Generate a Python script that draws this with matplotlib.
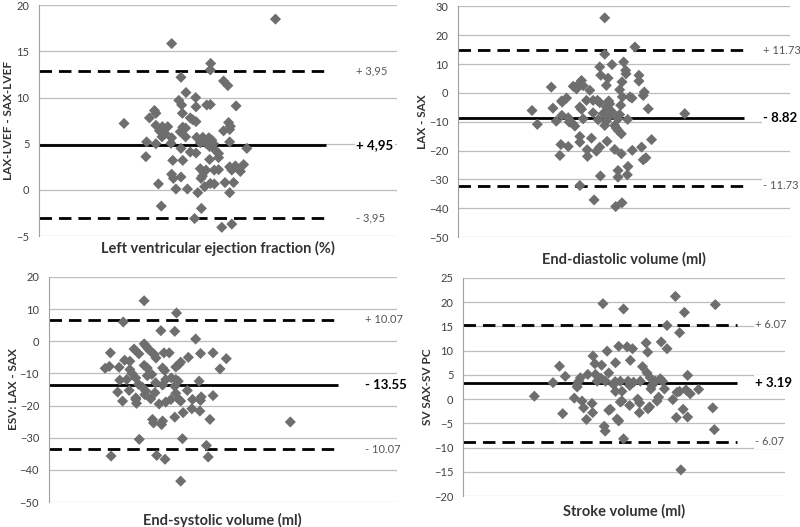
import matplotlib
matplotlib.use("Agg")
import matplotlib.pyplot as plt

plt.rcParams['font.family'] = ['Lato', 'DejaVu Sans']

# --- data (x axis has no scale: 0-100 = axis width) ---
lvef_x = [66.0, 37.0, 47.9, 47.8, 39.6, 51.5, 52.7, 41.0, 43.7, 39.0, 39.8, 43.8, 46.8, 47.8, 55.0,
          32.2, 32.6, 40.0, 30.8, 42.2, 42.9, 23.7, 43.8, 52.9, 32.6, 34.4, 35.9, 40.1, 40.9, 53.4,
          33.6, 35.2, 39.4, 51.5, 53.2, 34.3, 37.0, 40.9, 44.0, 45.7, 47.4, 48.2, 30.0, 32.6, 36.8,
          45.0, 46.6, 48.7, 53.2, 47.6, 39.6, 49.2, 58.0, 42.2, 43.8, 50.1, 29.8, 50.1, 47.6, 37.3,
          40.1, 57.1, 54.8, 53.2, 45.0, 46.6, 48.9, 50.1, 53.8, 56.2, 45.9, 45.6, 37.0, 39.6, 37.5,
          45.2, 33.3, 47.8, 48.9, 51.9, 54.3, 38.2, 41.4, 46.2, 44.3, 53.2, 34.1, 45.3, 43.4, 51.0,
          53.8]
lvef_y = [18.5, 15.85, 13.7, 13.0, 12.2, 11.8, 11.3, 10.55, 10.0, 9.7, 9.2, 9.0, 9.2, 9.25, 9.1,
          8.6, 8.3, 8.3, 7.8, 7.8, 7.6, 7.2, 7.4, 7.3, 7.0, 6.85, 6.85, 6.8, 6.7, 6.9,
          6.4, 6.1, 6.3, 6.4, 6.55, 5.75, 5.65, 5.75, 5.7, 5.7, 5.65, 5.4, 5.2, 5.0, 5.05,
          5.1, 5.05, 5.0, 5.2, 4.7, 4.5, 4.3, 4.5, 4.1, 4.0, 3.95, 3.6, 3.5, 3.3, 3.2,
          3.2, 2.75, 2.6, 2.5, 2.3, 2.15, 2.15, 2.2, 2.15, 2.0, 1.95, 1.5, 1.7, 1.4, 1.25,
          1.25, 0.65, 0.7, 0.65, 0.8, 0.8, 0.1, 0.1, 0.35, -0.3, -0.3, -1.75, -2.0, -3.1, -4.05,
          -3.7]

edv_x = [44.2, 53.3, 44.2, 42.7, 46.4, 49.9, 43.0, 45.2, 50.5, 50.6, 54.5, 54.5, 37.2, 36.7, 44.7,
         49.4, 28.1, 34.7, 37.7, 35.7, 39.7, 48.7, 56.1, 55.8, 49.5, 51.8, 52.4, 32.7, 31.2, 40.7,
         42.0, 38.7, 45.4, 31.4, 42.7, 45.7, 49.0, 36.7, 44.7, 28.6, 37.2, 57.3, 46.4, 40.7, 22.3,
         68.3, 43.7, 48.7, 45.9, 31.3, 33.2, 37.7, 48.2, 51.1, 42.2, 29.6, 33.5, 34.4, 44.7, 23.9,
         35.2, 44.2, 47.2, 47.7, 48.2, 49.2, 36.7, 40.2, 58.3, 36.7, 44.9, 31.0, 33.2, 42.7, 55.3,
         38.9, 47.2, 52.5, 41.7, 49.2, 30.7, 39.0, 56.6, 55.8, 51.2, 48.2, 51.0, 42.9, 48.2, 36.7,
         41.0, 49.4, 47.5]
edv_y = [26.0, 15.9, 13.4, 9.0, 9.8, 10.7, 6.1, 5.1, 7.8, 6.6, 6.1, 4.1, 4.3, 3.4, 2.6,
         3.8, 2.0, 2.3, 2.5, 1.4, 0.9, 1.1, 0.3, -0.9, -1.4, -1.4, -1.8, -1.8, -2.8, -2.6,
         -2.6, -2.6, -2.8, -3.2, -3.4, -3.8, -4.3, -4.9, -4.9, -5.3, -5.7, -5.5, -6.6, -6.9, -6.1,
         -7.2, -7.2, -7.5, -7.8, -7.8, -8.6, -9.0, -9.0, -9.2, -9.3, -9.8, -10.1, -10.5, -9.8, -10.9,
         -11.5, -11.3, -11.3, -12.2, -13.0, -14.2, -15.1, -15.7, -16.2, -17.1, -16.8, -17.9, -18.6, -18.8, -18.8,
         -19.7, -19.6, -19.9, -20.2, -21.1, -21.7, -22.0, -22.5, -23.2, -25.5, -26.9, -28.4, -28.8, -29.2, -32.1,
         -37.1, -38.1, -39.4]

esv_x = [27.4, 36.7, 21.4, 32.2, 36.2, 42.2, 27.4, 27.9, 28.6, 24.5, 25.9, 17.7, 29.3, 30.3, 33.1,
         34.6, 43.6, 47.2, 30.8, 40.1, 51.0, 21.8, 23.3, 37.9, 37.4, 36.5, 32.7, 27.4, 28.3, 20.2,
         17.4, 16.2, 23.3, 49.2, 33.3, 23.9, 29.6, 28.3, 35.2, 20.4, 22.4, 25.0, 33.6, 36.5, 37.2,
         43.2, 30.7, 25.8, 32.7, 36.2, 26.9, 19.8, 23.1, 27.9, 30.5, 39.8, 36.5, 27.6, 25.0, 29.3,
         43.8, 47.2, 25.0, 37.4, 37.9, 35.1, 43.6, 41.3, 21.2, 25.2, 33.6, 31.7, 43.4, 41.1, 38.6,
         36.2, 29.8, 32.7, 46.3, 30.1, 32.4, 69.4, 26.0, 38.4, 45.3, 17.9, 31.0, 45.8, 33.4, 37.9]
esv_y = [12.6, 8.8, 6.0, 3.3, 3.1, 0.7, -0.8, -1.5, -2.4, -2.4, -3.9, -3.6, -3.1, -4.1, -3.6,
         -3.6, -3.8, -3.6, -5.2, -5.0, -5.4, -5.9, -6.2, -6.5, -7.2, -8.0, -8.3, -7.5, -8.3, -8.1,
         -7.8, -8.4, -8.8, -8.6, -9.1, -10.0, -10.3, -10.7, -11.4, -12.1, -11.9, -11.4, -11.9, -11.9, -12.4,
         -12.4, -12.9, -13.4, -13.6, -14.0, -14.3, -15.8, -15.3, -15.5, -16.0, -15.3, -16.2, -16.6, -17.6, -17.9,
         -17.3, -16.9, -18.1, -18.1, -18.6, -18.1, -18.4, -18.1, -18.6, -19.3, -18.9, -19.5, -21.7, -21.0, -22.2,
         -23.6, -24.3, -24.8, -24.3, -25.4, -25.9, -25.1, -30.5, -30.3, -32.4, -35.7, -35.5, -36.0, -36.7, -43.5]

sv_x = [65.9, 43.4, 78.3, 49.8, 68.7, 63.3, 67.2, 56.8, 61.5, 48.3, 50.9, 52.6, 63.3, 44.7, 57.3,
        40.3, 51.9, 40.9, 47.3, 43.0, 29.9, 55.7, 31.7, 38.7, 41.1, 45.2, 57.1, 69.7, 36.4, 42.8,
        58.1, 61.2, 27.9, 35.9, 41.6, 44.2, 47.2, 48.8, 51.2, 52.9, 55.0, 59.7, 61.9, 35.4, 46.7,
        51.7, 58.6, 35.4, 58.3, 62.5, 47.3, 49.3, 73.1, 67.2, 69.2, 66.4, 70.5, 34.5, 22.1, 54.2,
        60.7, 65.1, 36.9, 49.3, 40.0, 60.2, 54.8, 48.8, 51.7, 57.9, 37.4, 57.4, 77.5, 45.7, 45.2,
        68.3, 30.9, 40.2, 54.7, 69.7, 66.2, 38.3, 47.8, 48.3, 43.8, 78.0, 44.1, 49.8, 67.6]
sv_y = [21.2, 19.7, 19.5, 18.6, 17.9, 15.2, 13.7, 11.6, 11.8, 10.9, 10.8, 10.4, 10.4, 9.9, 9.7,
        8.9, 8.0, 7.3, 7.5, 7.0, 6.8, 6.7, 4.7, 5.1, 5.1, 5.4, 5.4, 4.9, 4.4, 4.3,
        4.4, 4.2, 3.4, 3.7, 3.7, 3.7, 3.6, 3.7, 3.7, 3.5, 3.7, 3.7, 3.7, 3.0, 3.0,
        2.8, 2.8, 2.5, 2.1, 2.1, 1.6, 1.6, 2.0, 1.6, 1.9, 1.4, 1.1, 0.2, 0.6, 0.0,
        0.4, -0.1, -0.4, -0.4, -0.9, -0.4, -0.8, -0.6, -1.3, -1.6, -1.8, -2.0, -1.8, -2.1, -2.3,
        -2.1, -3.0, -2.8, -2.8, -3.7, -3.8, -4.2, -4.1, -4.5, -5.6, -6.3, -6.6, -8.2, -14.6]

# mean and limits of agreement as drawn, plus the printed labels
lvef_lines = [12.9, 4.9, -3.05]
edv_lines = [14.7, -8.6, -32.1]
esv_lines = [6.7, -13.6, -33.6]
sv_lines = [15.3, 3.4, -8.8]
lvef_labels = ["+ 3,95", "+ 4,95", "- 3,95"]
edv_labels = ["+ 11.73", "- 8.82", "- 11.73"]
esv_labels = ["+ 10.07", "- 13.55", "- 10.07"]
sv_labels = ["+ 6.07", "+ 3.19", "- 6.07"]

panels = [
    # x, y, lines, labels, ylim, step, ylabel, xlabel, rect, line_end, label_x, ylab_x, xlab_y
    (lvef_x, lvef_y, lvef_lines, lvef_labels, (-5, 20), 5, "LAX-LVEF - SAX-LVEF",
     "Left ventricular ejection fraction (%)", [0.049, 0.552, 0.4475, 0.438], 80, 0.885, -0.085, -0.055),
    (edv_x, edv_y, edv_lines, edv_labels, (-50, 30), 10, "LAX - SAX",
     "End-diastolic volume (ml)", [0.5725, 0.550, 0.415, 0.438], 86, 0.92, -0.108, -0.095),
    (esv_x, esv_y, esv_lines, esv_labels, (-50, 20), 10, "ESV: LAX - SAX",
     "End-systolic volume (ml)", [0.061, 0.0474, 0.435, 0.427], 83, 0.91, -0.102, -0.08),
    (sv_x, sv_y, sv_lines, sv_labels, (-20, 25), 5, "SV SAX-SV PC",
     "Stroke volume (ml)", [0.579, 0.0588, 0.4025, 0.4137], 85, 0.907, -0.112, -0.07),
]

fig = plt.figure(figsize=(8, 5.27), dpi=100)

for (xs, ys, lines, labels, ylim, step, ylabel, xlabel, rect, line_end,
     label_x, ylab_x, xlab_y) in panels:
    ax = fig.add_axes(rect)
    ax.set_xlim(0, 100)
    ax.set_ylim(*ylim)
    ax.set_yticks(range(ylim[0], ylim[1] + 1, step))
    ax.set_xticks([])
    ax.grid(axis='y', color='#bdbdbd', linewidth=0.9)
    ax.set_axisbelow(True)
    for s in ['top', 'right', 'bottom']:
        ax.spines[s].set_visible(False)
    ax.spines['left'].set_color('#a0a0a0')
    ax.tick_params(axis='y', length=0, labelsize=8, labelcolor='#404040', pad=7)

    for i, v in enumerate(lines):
        if i == 1:
            ax.plot([0, line_end], [v, v], color='black', lw=2, solid_capstyle='butt', zorder=2)
        else:
            ax.plot([0, line_end], [v, v], color='black', lw=2, dashes=(4.5, 2.5), zorder=2)
        ax.text(label_x, v, labels[i], transform=ax.get_yaxis_transform(), va='center', ha='left',
                fontsize=9.5 if i == 1 else 8, fontweight='bold' if i == 1 else 'normal',
                color='black' if i == 1 else '#555555', clip_on=False,
                bbox=dict(facecolor='white', edgecolor='none', pad=1))

    ax.scatter(xs, ys, marker='D', s=32, color='#6e6e6e', edgecolors='none', zorder=3)

    ax.text(ylab_x, 0.5, ylabel, transform=ax.transAxes, rotation=90, ha='center', va='center',
            rotation_mode='anchor', fontsize=8.5, fontweight='bold', color='#333333')
    ax.text(0.5, xlab_y, xlabel, transform=ax.transAxes, ha='center', va='center',
            fontsize=10.5, fontweight='bold', color='#333333')

fig.savefig("out.png", dpi=100)
